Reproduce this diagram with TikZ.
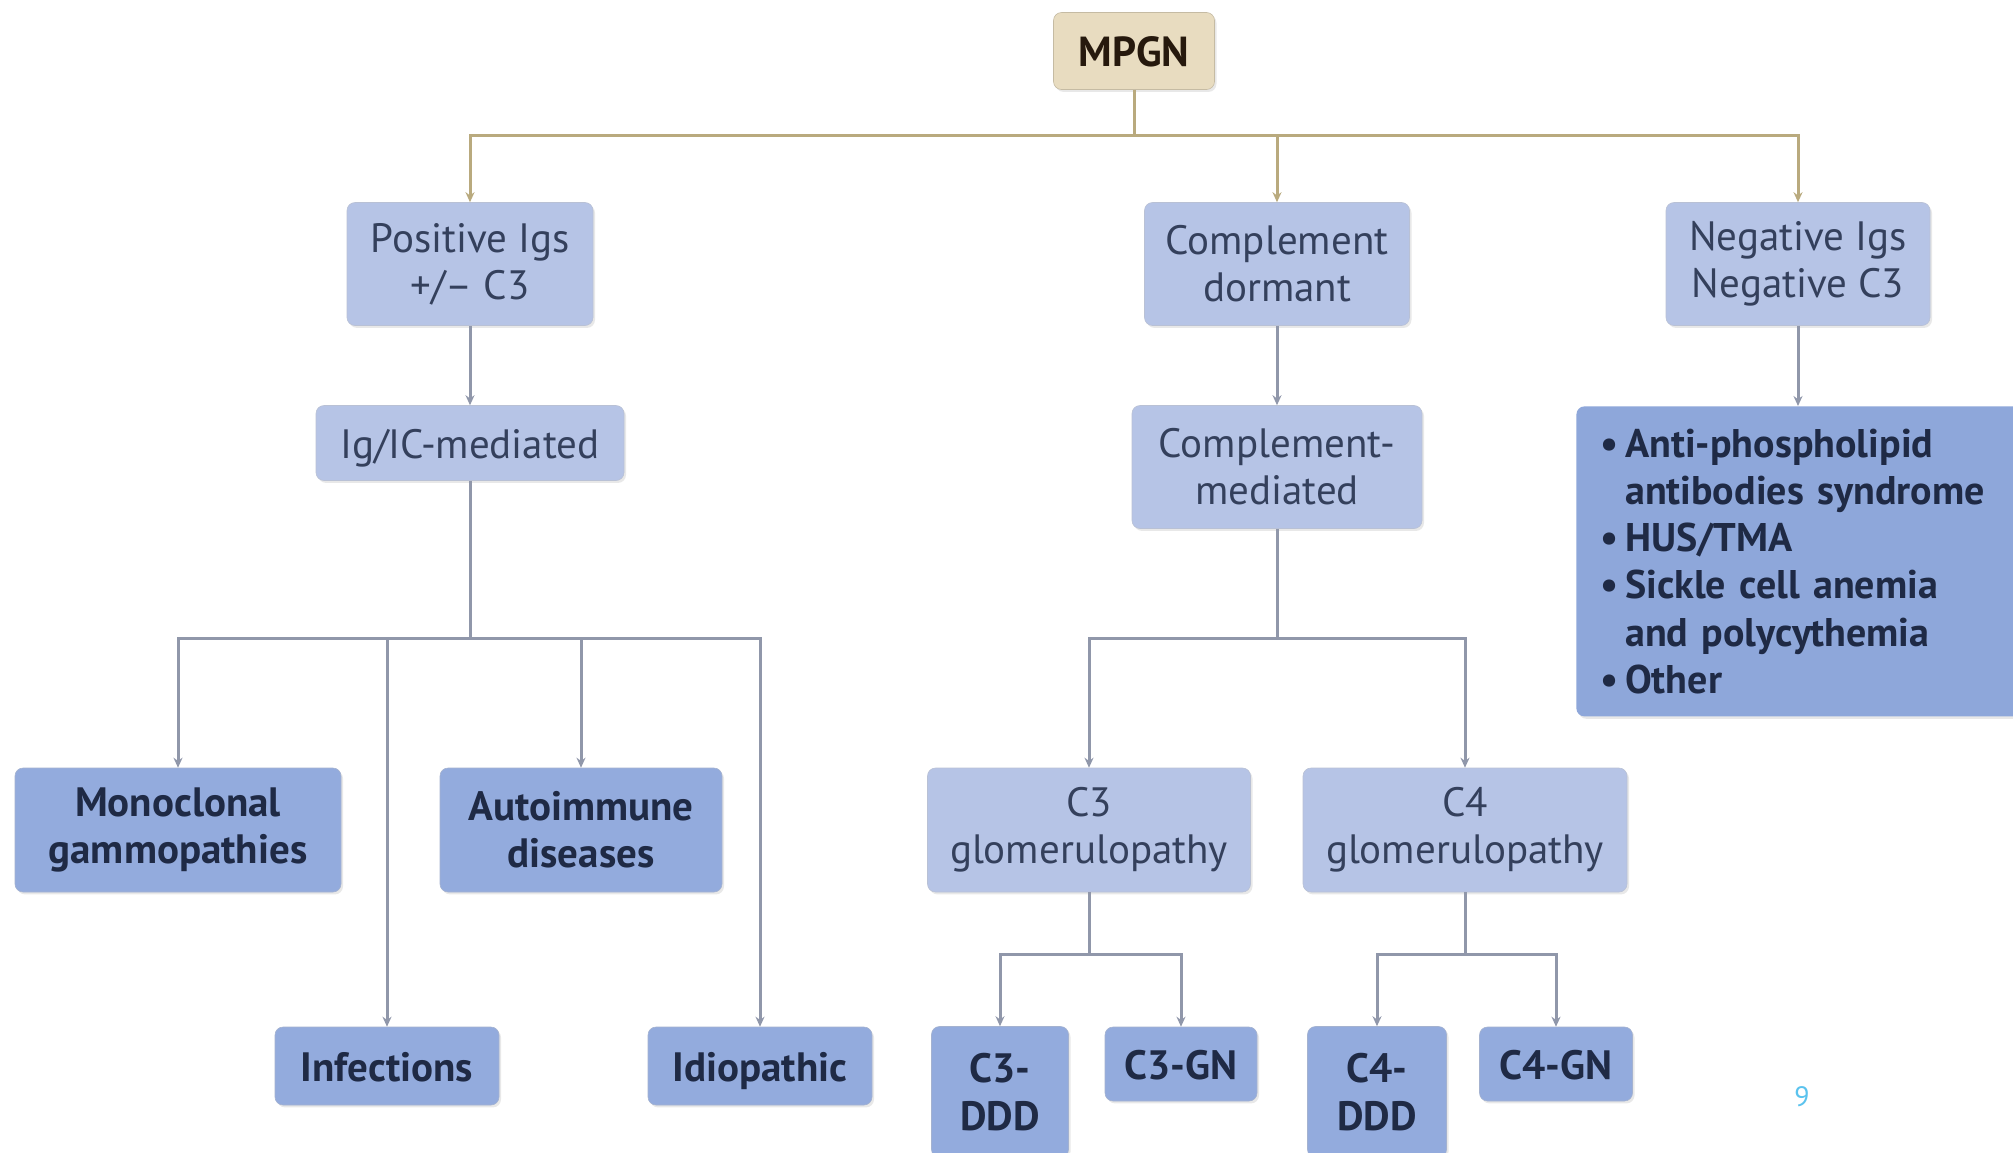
\documentclass[tikz,border=0pt]{standalone}
\usepackage{fontspec}
\setmainfont{PT Sans}
\usetikzlibrary{arrows.meta,shadows}
\definecolor{lightbox}{HTML}{B6C4E6}
\definecolor{darkbox}{HTML}{93ABDD}
\definecolor{listbox}{HTML}{8EA7DA}
\definecolor{beigebox}{HTML}{E8DCC0}
\definecolor{txt}{HTML}{34405C}
\definecolor{txtb}{HTML}{1F2A45}
\definecolor{lineg}{HTML}{9097AA}
\definecolor{linet}{HTML}{B9AA7E}
\definecolor{pagenum}{HTML}{5BC3EE}
\tikzset{
  base/.style={rounded corners=4pt, inner sep=2pt, align=center,
    drop shadow={opacity=0.18, shadow xshift=1pt, shadow yshift=-1.2pt}},
  lbox/.style={base, fill=lightbox, draw=lightbox!85!black!70, line width=0.3pt, text=txt,
    font=\fontsize{20.5}{23.6}\selectfont},
  dbox/.style={base, fill=darkbox, draw=darkbox!85!black!70, line width=0.3pt, text=txtb,
    font=\fontsize{20.5}{23.6}\selectfont\bfseries},
  mbox/.style={base, fill=beigebox, draw=beigebox!85!black, line width=0.3pt, text=black!80!brown,
    font=\fontsize{21}{24}\selectfont\bfseries},
  oneline/.style={text height=17pt, text depth=2pt},
  ln/.style={draw=lineg, line width=1.5pt},
  lnt/.style={draw=linet, line width=1.5pt},
  arr/.style={ln, -{Stealth[length=5pt,width=4.5pt]}},
  arrt/.style={lnt, -{Stealth[length=5pt,width=4.5pt]}},
}
\begin{document}
\begin{tikzpicture}[x=0.5pt,y=-0.5pt]
\clip (0,0) rectangle (2013,1152);
\fill[white] (0,0) rectangle (2013,1152);

% top
\node[mbox, oneline, minimum width=80.5pt, minimum height=38.5pt] (mpgn) at (1134,51) {MPGN};

% level 1
\node[lbox, minimum width=123pt, minimum height=61.5pt] (pos) at (470,264) {Positive Igs\\+/– C3};
\node[lbox, minimum width=132.5pt, minimum height=61.5pt] (cdor) at (1277,264) {Complement\\dormant};
\node[lbox, minimum width=132pt, minimum height=61.5pt] (neg) at (1798,264) {Negative Igs\\Negative C3};

% level 2
\node[lbox, oneline, minimum width=154pt, minimum height=37.5pt] (igic) at (470,443) {Ig/IC-mediated};
\node[lbox, minimum width=145pt, minimum height=61.5pt] (cmed) at (1277,467) {Complement-\\mediated};
\node[base, fill=listbox, text=txtb, anchor=north west, minimum width=227pt, minimum height=155pt,
      text width=205pt, inner xsep=12pt, inner ysep=6pt, align=left,
      font=\fontsize{20}{23.6}\selectfont\bfseries] (list) at (1576,406)
  {•\,Anti-phospholipid\\\hphantom{•\,}antibodies syndrome\\•\,HUS/TMA\\•\,Sickle cell anemia\\\hphantom{•\,}and polycythemia\\•\,Other};

% level 3
\node[dbox, minimum width=163pt, minimum height=62pt] (mono) at (178,830) {Monoclonal\\gammopathies};
\node[dbox, minimum width=141pt, minimum height=62pt] (auto) at (581,830) {Autoimmune\\diseases};
\node[lbox, minimum width=161.5pt, minimum height=62pt] (c3g) at (1089,830) {C3\\glomerulopathy};
\node[lbox, minimum width=162pt, minimum height=62pt] (c4g) at (1465,830) {C4\\glomerulopathy};

% level 4
\node[dbox, oneline, minimum width=112pt, minimum height=39pt] (inf) at (387,1066) {Infections};
\node[dbox, oneline, minimum width=112pt, minimum height=39pt] (idio) at (760,1066) {Idiopathic};
\node[dbox, minimum width=68.5pt, minimum height=65.5pt] (c3d) at (1000,1092) {C3-\\DDD};
\node[dbox, oneline, minimum width=76pt, minimum height=37pt] (c3gn) at (1181,1064) {C3-GN};
\node[dbox, minimum width=69.5pt, minimum height=65.5pt] (c4d) at (1377,1092) {C4-\\DDD};
\node[dbox, oneline, minimum width=76.5pt, minimum height=37pt] (c4gn) at (1556,1064) {C4-GN};

% junctions
\coordinate (j0) at (1134,135);
\coordinate (j1) at (470,638);
\coordinate (j2) at (1277,638);
\coordinate (j3) at (1089,954);
\coordinate (j4) at (1465,954);

% connectors
\draw[lnt] (mpgn.south) -- (j0);
\draw[arrt] (j0) -| (pos.north);
\draw[arrt] (j0) -| (cdor.north);
\draw[arrt] (j0) -| (neg.north);

\draw[arr] (pos.south) -- (igic.north);
\draw[arr] (cdor.south) -- (cmed.north);
\draw[arr] (neg.south) -- (neg.south |- list.north);

\draw[ln] (igic.south) -- (j1);
\draw[arr] (j1) -| (mono.north);
\draw[arr] (j1) -| (inf.north);
\draw[arr] (j1) -| (auto.north);
\draw[arr] (j1) -| (idio.north);

\draw[ln] (cmed.south) -- (j2);
\draw[arr] (j2) -| (c3g.north);
\draw[arr] (j2) -| (c4g.north);

\draw[ln] (c3g.south) -- (j3);
\draw[arr] (j3) -| (c3d.north);
\draw[arr] (j3) -| (c3gn.north);

\draw[ln] (c4g.south) -- (j4);
\draw[arr] (j4) -| (c4d.north);
\draw[arr] (j4) -| (c4gn.north);

% page number
\node[text=pagenum, font=\fontsize{14}{16}\selectfont, inner sep=0pt] (page) at (1802,1097) {9};
\end{tikzpicture}
\end{document}
